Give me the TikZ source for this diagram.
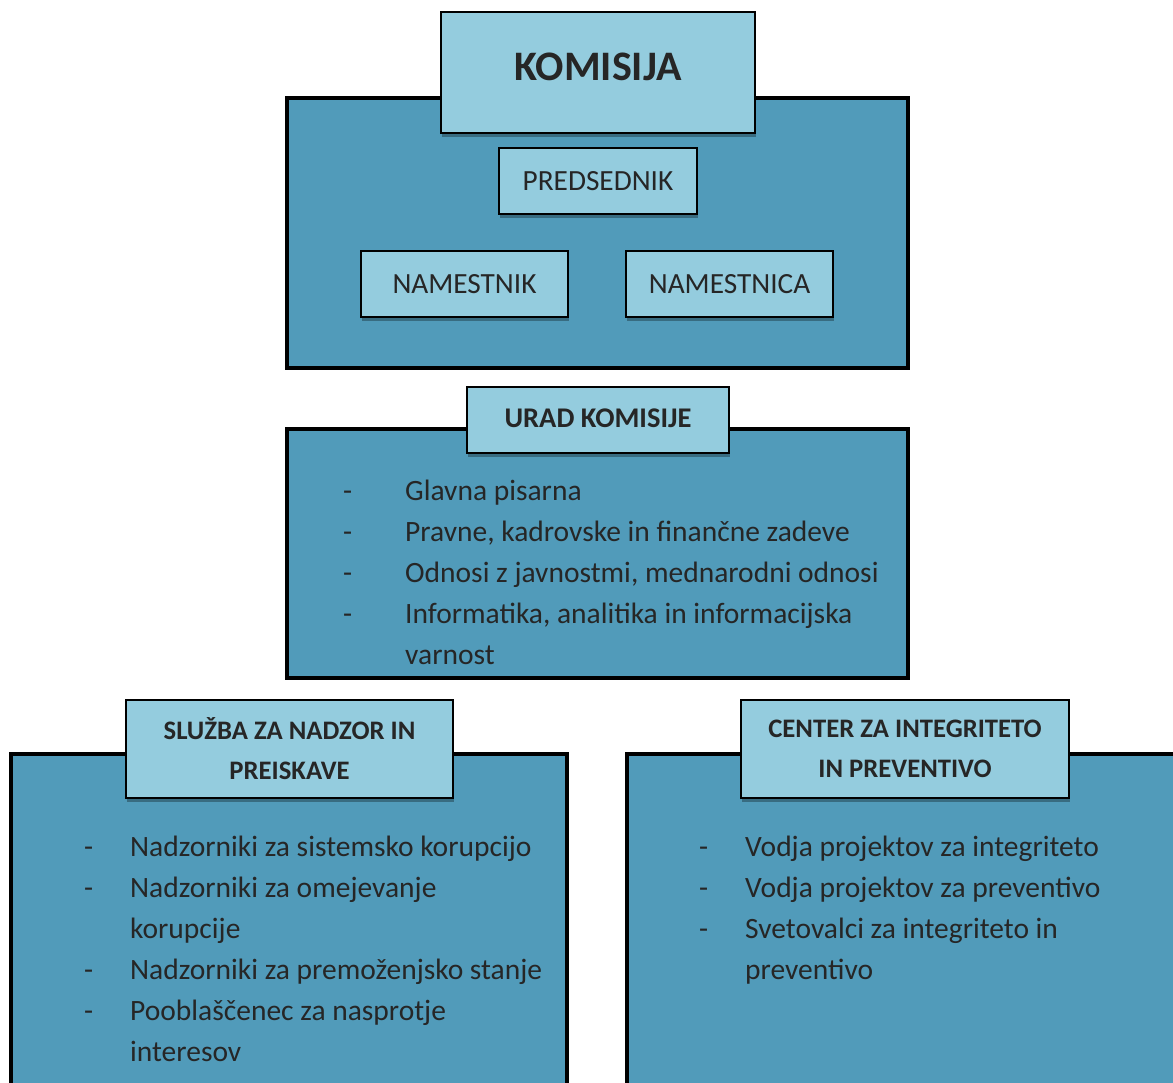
\documentclass[tikz,border=0pt]{standalone}
\usepackage{fontspec}
\setmainfont{Carlito}
\usetikzlibrary{shadows}
\definecolor{darkpanel}{HTML}{519BBA}
\definecolor{lightbox}{HTML}{94CCDE}
\definecolor{ink}{HTML}{262626}
\tikzset{
  panel/.style={draw=black, line width=4pt, fill=darkpanel, rectangle, inner sep=0pt},
  headbox/.style={draw=black, line width=1.6pt, fill=lightbox, rectangle, inner sep=0pt,
    text=ink, align=center,
    drop shadow={shadow xshift=1pt, shadow yshift=-4pt, opacity=0.3, fill=black}},
  listtext/.style={inner sep=0pt, text=ink, anchor=base west, font=\fontsize{29.5}{41}\selectfont},
}
\begin{document}
\begin{tikzpicture}[x=1pt,y=-1pt]
\useasboundingbox (0,0) rectangle (1173,1083);
% panels
\node[panel, minimum width=621pt, minimum height=270pt] (p1) at (597.5,233) {};
\node[panel, minimum width=621pt, minimum height=249pt] (p2) at (597.5,553.5) {};
\node[panel, minimum width=556pt, minimum height=366pt] (p3) at (289,937) {};
\node[panel, minimum width=573pt, minimum height=366pt] (p4) at (913.5,937) {};
% headers
\node[headbox, minimum width=314pt, minimum height=121pt] (kom) at (598,72.5) {};
\node[text=ink, font=\fontsize{42}{48}\selectfont\bfseries] (komt) at (598,67) {KOMISIJA};
\node[headbox, minimum width=198pt, minimum height=66pt, font=\fontsize{29.3}{34}\selectfont] (pred) at (598,181) {PREDSEDNIK};
\node[headbox, minimum width=207pt, minimum height=66pt, font=\fontsize{29.3}{34}\selectfont] (nam1) at (464.5,284) {NAMESTNIK};
\node[headbox, minimum width=207pt, minimum height=66pt, font=\fontsize{29.3}{34}\selectfont] (nam2) at (729.5,284) {NAMESTNICA};
\node[headbox, minimum width=262pt, minimum height=66pt] (urad) at (598,420) {};
\node[text=ink, font=\fontsize{28.5}{34}\selectfont\bfseries] (uradt) at (598,418) {URAD KOMISIJE};
\node[headbox, minimum width=327pt, minimum height=98pt, font=\fontsize{26.7}{40}\selectfont\bfseries] (sluzba) at (289.5,749) {SLUŽBA ZA NADZOR IN\\PREISKAVE};
\node[headbox, minimum width=328pt, minimum height=98pt, font=\fontsize{26.7}{40}\selectfont\bfseries] (center) at (905,749) {CENTER ZA INTEGRITETO\\IN PREVENTIVO};
% lists
\node[listtext] (l2) at (343,500) {\begin{tabular}[t]{@{}p{62pt}@{}l@{}}
-&Glavna pisarna\\
-&Pravne, kadrovske in finančne zadeve\\
-&Odnosi z javnostmi, mednarodni odnosi\\
-&Informatika, analitika in informacijska\\
&varnost
\end{tabular}};
\node[listtext] (l3) at (84,856) {\begin{tabular}[t]{@{}p{46pt}@{}l@{}}
-&Nadzorniki za sistemsko korupcijo\\
-&Nadzorniki za omejevanje\\
&korupcije\\
-&Nadzorniki za premoženjsko stanje\\
-&Pooblaščenec za nasprotje\\
&interesov
\end{tabular}};
\node[listtext] (l4) at (699,856) {\begin{tabular}[t]{@{}p{46pt}@{}l@{}}
-&Vodja projektov za integriteto\\
-&Vodja projektov za preventivo\\
-&Svetovalci za integriteto in\\
&preventivo
\end{tabular}};
\end{tikzpicture}
\end{document}
